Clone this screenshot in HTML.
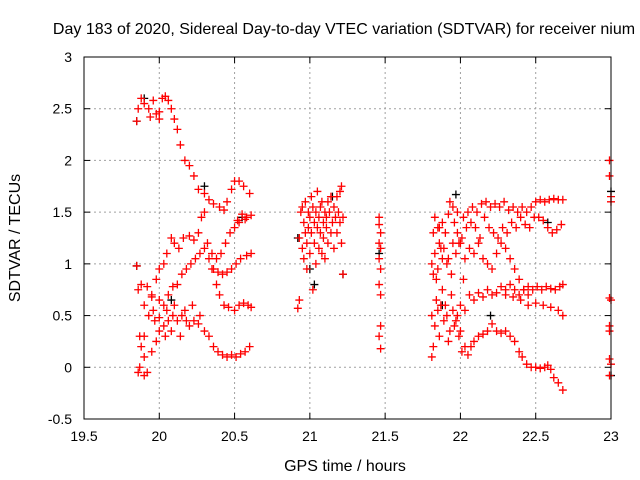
<!DOCTYPE html>
<html><head><meta charset="utf-8"><style>
body{margin:0;background:#fff;}
svg{display:block;font-family:"Liberation Sans",sans-serif;}
</style></head><body>
<svg id="chart" width="640" height="480" viewBox="0 0 640 480" xmlns="http://www.w3.org/2000/svg">
<rect width="640" height="480" fill="#fff"/>
<text x="344" y="34" font-size="16" text-anchor="middle">Day 183 of 2020, Sidereal Day-to-day VTEC variation (SDTVAR) for receiver nium</text>
<text x="345" y="471" font-size="16" text-anchor="middle">GPS time / hours</text>
<text transform="translate(20,238) rotate(-90)" font-size="16" text-anchor="middle">SDTVAR / TECUs</text>
<g id="grid"></g><g id="ticks"></g><g id="marks"></g>
<rect x="84" y="57" width="527" height="362" fill="none" stroke="#000" stroke-width="1"/>
</svg>
<script>
const xTicks=[19.5,20,20.5,21,21.5,22,22.5,23];
const xTickLabels=["19.5","20","20.5","21","21.5","22","22.5","23"];
const yTicks=[-0.5,0,0.5,1,1.5,2,2.5,3];
const yTickLabels=["-0.5","0","0.5","1","1.5","2","2.5","3"];
const segA1=[[19.86,2.5],[19.88,2.6],[19.9,2.55],[19.93,2.5],[19.96,2.58],[19.98,2.45],[20.0,2.47],[20.02,2.6],[20.04,2.62],[20.06,2.58],[20.08,2.5],[20.1,2.4],[20.12,2.3],[20.14,2.15],[20.17,2.0],[20.2,1.95],[20.23,1.85],[20.26,1.72],[20.3,1.68],[20.33,1.62],[20.36,1.58],[20.4,1.55],[20.43,1.52],[20.45,1.6],[20.48,1.72],[20.5,1.8],[20.53,1.8],[20.56,1.75],[20.6,1.68],[19.94,2.42],[20.0,2.4]];
const segA2=[[19.86,0.75],[19.88,0.8],[19.92,0.78],[19.95,0.68],[19.98,0.85],[20.0,0.95],[20.03,1.0],[20.05,1.1],[20.08,1.25],[20.1,1.2],[20.13,1.15],[20.16,1.25],[20.2,1.27],[20.23,1.23],[20.26,1.3],[20.28,1.45],[20.3,1.5],[20.32,1.2],[20.35,1.1],[20.38,1.05],[20.41,1.1],[20.44,1.2],[20.47,1.3],[20.5,1.35],[20.52,1.42],[20.55,1.48],[20.58,1.45],[20.61,1.47],[20.53,1.4],[20.57,1.43]];
const segA3=[[19.9,0.3],[19.93,0.5],[19.96,0.55],[20.0,0.48],[20.03,0.6],[20.06,0.7],[20.09,0.78],[20.12,0.8],[20.15,0.9],[20.18,0.95],[20.21,1.0],[20.24,1.05],[20.27,1.1],[20.3,1.15],[20.33,1.05],[20.36,0.95],[20.39,0.92],[20.42,0.9],[20.45,0.92],[20.48,0.95],[20.51,1.0],[20.54,1.05],[20.58,1.08],[20.61,1.1]];
const segA4=[[19.87,0.0],[19.88,0.2],[19.9,0.1],[19.92,-0.05],[19.95,0.15],[19.98,0.25],[20.0,0.35],[20.03,0.4],[20.06,0.45],[20.09,0.5],[20.12,0.45],[20.15,0.5],[20.18,0.45],[20.2,0.4],[20.23,0.45],[20.26,0.42],[20.3,0.35],[20.33,0.3],[20.36,0.2],[20.39,0.15],[20.42,0.12],[20.45,0.1],[20.48,0.12],[20.51,0.1],[20.54,0.13],[20.57,0.15],[20.6,0.2],[19.86,-0.05],[19.9,-0.08]];
const segA5=[[20.35,0.95],[20.38,0.8],[20.4,0.7],[20.43,0.6],[20.46,0.58],[20.5,0.55],[20.53,0.6],[20.56,0.62],[20.59,0.6],[20.61,0.58],[19.85,0.98],[19.85,2.38],[19.87,0.3],[19.9,0.6],[19.95,0.7],[20.0,0.65],[20.05,0.55],[20.1,0.6],[19.97,0.45],[20.04,0.3],[20.08,0.35],[20.14,0.3],[20.17,0.55],[20.22,0.6],[20.27,0.5]];
const segB=[[20.92,0.57],[20.93,0.65],[20.93,1.25],[20.94,1.5],[20.95,1.55],[20.95,1.15],[20.96,1.4],[20.96,1.05],[20.97,1.6],[20.97,1.3],[20.98,1.2],[20.98,0.95],[20.99,1.5],[20.99,1.35],[21.0,1.45],[21.0,1.1],[21.01,1.65],[21.01,1.3],[21.02,0.75],[21.02,1.55],[21.03,1.4],[21.03,1.2],[21.04,1.5],[21.04,1.0],[21.05,1.7],[21.05,1.35],[21.06,1.45],[21.06,1.15],[21.07,1.55],[21.07,1.3],[21.08,1.6],[21.08,1.1],[21.09,1.4],[21.09,1.25],[21.1,1.5],[21.1,1.05],[21.11,1.45],[21.11,1.35],[21.12,1.6],[21.12,1.2],[21.13,1.5],[21.14,1.3],[21.14,1.65],[21.15,1.4],[21.16,1.55],[21.16,1.15],[21.17,1.45],[21.18,1.65],[21.18,1.3],[21.19,1.5],[21.2,1.7],[21.2,1.4],[21.21,1.75],[21.21,1.2],[21.22,0.9],[21.22,1.45]];
const segC=[[21.46,1.45],[21.46,1.38],[21.47,1.3],[21.46,1.2],[21.47,1.15],[21.46,1.05],[21.47,0.95],[21.46,0.8],[21.47,0.7],[21.47,0.4],[21.46,0.3],[21.47,0.18]];
const segD1=[[21.82,1.3],[21.85,1.35],[21.88,1.4],[21.92,1.48],[21.95,1.55],[21.98,1.5],[22.02,1.45],[22.05,1.5],[22.08,1.55],[22.11,1.5],[22.14,1.58],[22.17,1.6],[22.2,1.55],[22.23,1.58],[22.26,1.55],[22.29,1.6],[22.32,1.52],[22.35,1.55],[22.38,1.5],[22.41,1.55],[22.44,1.5],[22.47,1.55],[22.5,1.6],[22.53,1.62],[22.56,1.6],[22.59,1.62],[22.62,1.63],[22.65,1.62],[22.68,1.62]];
const segD2=[[21.81,1.0],[21.83,1.1],[21.86,1.2],[21.89,1.15],[21.92,1.05],[21.95,1.2],[21.98,1.3],[22.01,1.25],[22.04,1.35],[22.07,1.4],[22.1,1.35],[22.13,1.25],[22.16,1.45],[22.19,1.35],[22.22,1.3],[22.25,1.25],[22.28,1.35],[22.31,1.3],[22.34,1.4],[22.37,1.35],[22.4,1.45],[22.43,1.38],[22.46,1.35],[22.49,1.45],[22.52,1.45],[22.55,1.42],[22.58,1.35],[22.61,1.3],[22.64,1.33],[22.67,1.38]];
const segD3=[[21.82,0.9],[21.85,0.95],[21.88,1.05],[21.91,1.0],[21.94,0.9],[21.97,1.1],[22.0,1.2],[22.03,1.05],[22.06,1.15],[22.09,1.1],[22.12,1.2],[22.15,1.05],[22.18,1.0],[22.21,0.95],[22.24,1.1],[22.27,1.2],[22.3,1.15],[22.33,1.05],[22.36,0.95],[22.39,0.85],[22.42,0.75],[22.45,0.7]];
const segD4=[[22.0,0.6],[22.03,0.55],[22.06,0.7],[22.09,0.65],[22.12,0.72],[22.15,0.68],[22.18,0.75],[22.21,0.7],[22.24,0.72],[22.27,0.78],[22.3,0.75],[22.33,0.8],[22.36,0.75],[22.39,0.7],[22.42,0.75],[22.45,0.78],[22.48,0.75],[22.51,0.78],[22.54,0.75],[22.57,0.78],[22.6,0.76],[22.63,0.75],[22.66,0.78],[22.68,0.8],[22.4,0.65],[22.45,0.6],[22.5,0.62],[22.55,0.6],[22.6,0.58],[22.65,0.55],[22.68,0.5],[22.3,0.7],[22.35,0.68]];
const segD5=[[21.81,0.5],[21.83,0.4],[21.85,0.55],[21.87,0.6],[21.89,0.45],[21.91,0.5],[21.93,0.35],[21.95,0.55],[21.97,0.45],[21.99,0.3],[22.01,0.15],[22.03,0.2],[22.05,0.12],[22.07,0.2],[22.09,0.25],[22.12,0.3],[22.15,0.32],[22.18,0.35],[22.21,0.42],[22.24,0.35],[22.27,0.33],[22.3,0.35],[22.33,0.3],[22.36,0.25],[22.39,0.15],[22.41,0.1],[22.44,0.03],[22.47,0.0],[22.5,0.0],[22.53,-0.01],[22.56,0.0],[22.58,0.02],[22.6,-0.02],[22.62,-0.1],[22.65,-0.15],[22.68,-0.22]];
const segD6=[[21.81,0.1],[21.82,0.2],[21.84,0.65],[21.86,0.3],[21.88,0.75],[21.9,0.6],[21.92,0.25],[21.94,0.7],[21.96,0.4],[21.98,0.5],[22.0,0.35],[21.83,1.45],[21.86,1.35],[21.9,1.3],[21.93,1.6],[21.96,1.4],[21.99,1.2],[21.84,0.85],[21.87,1.15],[22.02,0.85]];
const segE=[[22.99,2.0],[22.99,1.85],[23.0,1.65],[23.0,1.6],[22.99,0.67],[23.0,0.65],[22.99,0.4],[22.99,0.35],[22.99,0.08],[23.0,0.03],[22.99,-0.08]];
const blackPts=[[19.85,2.38],[19.85,0.98],[19.9,2.6],[20.08,0.65],[20.3,1.75],[20.55,1.45],[20.92,1.25],[21.0,0.95],[21.03,0.8],[21.15,1.65],[21.22,0.9],[21.46,1.1],[21.88,0.6],[21.97,1.67],[22.2,0.5],[22.58,1.4],[23.0,1.7],[23.0,-0.08]];

const X0=84,X1=611,Y0=419,Y1=57;
const xs=v=>X0+(v-19.5)/(23-19.5)*(X1-X0);
const ys=v=>Y0-(v+0.5)/(3.5)*(Y0-Y1);
const NS="http://www.w3.org/2000/svg";
const grid=document.getElementById('grid'),ticks=document.getElementById('ticks'),marks=document.getElementById('marks');
function mk(tag,attrs,parent){const e=document.createElementNS(NS,tag);for(const k in attrs)e.setAttribute(k,attrs[k]);parent.appendChild(e);return e;}
xTicks.forEach((t,i)=>{const x=xs(t);
 if(i>0&&i<xTicks.length-1){const g=mk('line',{x1:x,x2:x,y1:Y1,y2:Y0,stroke:'#a0a0a0','stroke-dasharray':'2,3'},grid);
 
 }
 mk('line',{x1:x,x2:x,y1:Y0,y2:Y0-6,stroke:'#000'},ticks);mk('line',{x1:x,x2:x,y1:Y1,y2:Y1+6,stroke:'#000'},ticks);
 const tx=mk('text',{x:x,y:Y0+22,'font-size':14,'text-anchor':'middle'},ticks);tx.textContent=xTickLabels[i];
 
 });
yTicks.forEach((t,i)=>{const y=ys(t);
 if(i>0&&i<yTicks.length-1){const g=mk('line',{x1:X0,x2:X1,y1:y,y2:y,stroke:'#a0a0a0','stroke-dasharray':'2,3'},grid);
 
 }
 mk('line',{x1:X0,x2:X0+6,y1:y,y2:y,stroke:'#000'},ticks);mk('line',{x1:X1,x2:X1-6,y1:y,y2:y,stroke:'#000'},ticks);
 const tx=mk('text',{x:X0-12,y:y+5,'font-size':14,'text-anchor':'end'},ticks);tx.textContent=yTickLabels[i];
 
 });
function plus(p,color){const x=xs(p[0]),y=ys(p[1]);
 const e=mk('path',{d:`M${x-4},${y}H${x+4}M${x},${y-4}V${y+4}`,stroke:color,'stroke-width':1.3,fill:'none'},marks);
 
 }
blackPts.forEach(p=>plus(p,'#000'));
[segA1,segA2,segA3,segA4,segA5,segB,segC,segD1,segD2,segD3,segD4,segD5,segD6,segE].forEach(s=>s.forEach(p=>plus(p,'#ff0000')));
</script>
</body></html>
